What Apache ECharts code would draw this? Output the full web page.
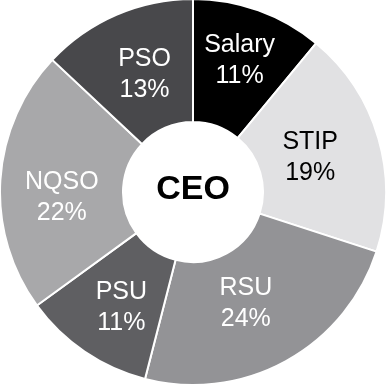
<!DOCTYPE html>
<html>
<head>
<meta charset="utf-8">
<script src="https://cdn.jsdelivr.net/npm/echarts@6/dist/echarts.min.js"></script>
<style>html,body{margin:0;padding:0;background:#fff;}#c{width:388px;height:388px;}</style>
</head>
<body>
<div id="c"></div>
<script>
const categories = ['Salary', 'STIP', 'RSU', 'PSU', 'NQSO', 'PSO'];
const values = [11, 19, 24, 11, 22, 13];
const colors = ['#000000', '#e1e1e3', '#939396', '#5f5f62', '#a8a8aa', '#48484b'];
const labelColors = ['#ffffff', '#000000', '#ffffff', '#ffffff', '#ffffff', '#ffffff'];
// small label nudges [dx, dy] in px (layout styling only)
const labelNudge = [[1, -5], [-12, 3], [-12, -6], [4, 4], [3, 14], [5, 6]];
const centerText = 'CEO';

const chart = echarts.init(document.getElementById('c'), null, {renderer: 'canvas'});
chart.setOption({
  animation: false,
  backgroundColor: '#ffffff',
  graphic: [{
    type: 'text',
    x: 193, y: 190,
    style: {
      text: centerText,
      fill: '#000',
      font: 'bold 34px "Liberation Sans", Arial, sans-serif',
      align: 'center',
      verticalAlign: 'middle'
    }
  }],
  series: [{
    type: 'pie',
    center: [193, 192],
    radius: [70, 193],
    startAngle: 90,
    clockwise: true,
    avoidLabelOverlap: false,
    itemStyle: {borderColor: '#ffffff', borderWidth: 2},
    label: {
      show: true,
      position: 'inside',
      formatter: p => p.name + '\n' + p.value + '%',
      fontFamily: '"Liberation Sans", Arial, sans-serif',
      fontSize: 25,
      lineHeight: 31,
      align: 'center'
    },
    labelLine: {show: false},
    emphasis: {disabled: true},
    data: categories.map((name, i) => ({
      name: name,
      value: values[i],
      itemStyle: {color: colors[i]},
      label: {color: labelColors[i]}
    }))
  }]
});
// apply small label nudges after the library has laid out the labels
(function () {
  const series = chart.getModel().getSeriesByIndex(0);
  const data = series.getData();
  data.each(function (i) {
    const el = data.getItemGraphicEl(i);
    const label = el && el.getTextContent();
    if (label) {
      label.x += labelNudge[i][0];
      label.y += labelNudge[i][1];
      label.markRedraw();
    }
  });
  chart.getZr().refreshImmediately();
})();
</script>
</body>
</html>
